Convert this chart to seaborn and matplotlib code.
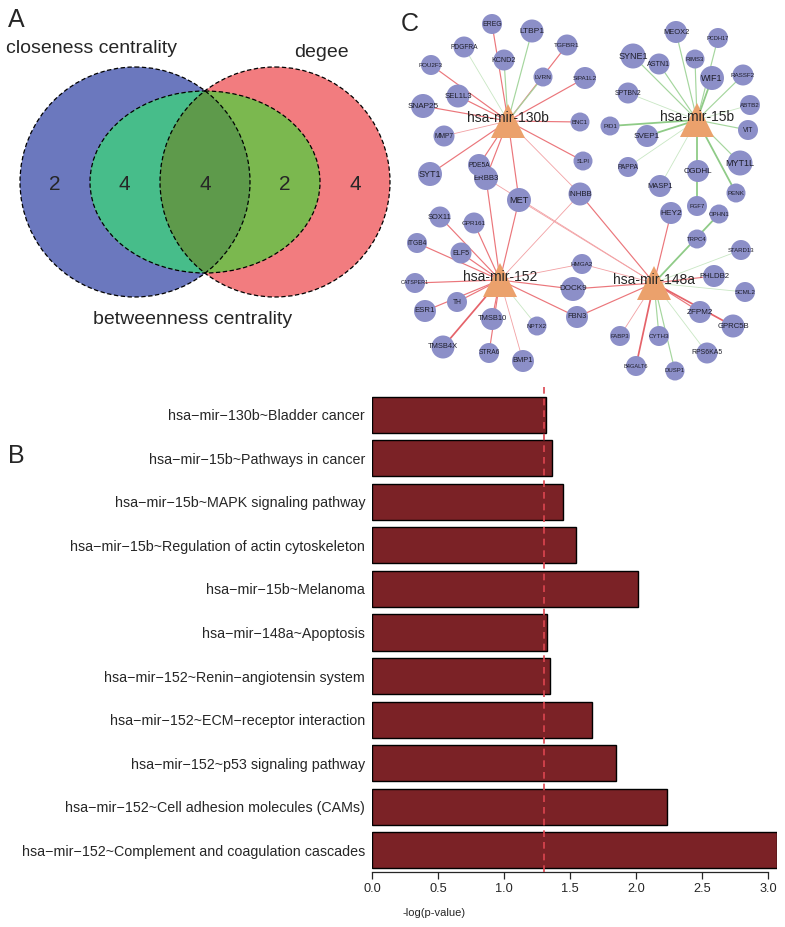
import matplotlib
matplotlib.use("Agg")
import matplotlib.pyplot as plt
from matplotlib.patches import Circle, Ellipse
import numpy as np
import seaborn as sns

sns.set_style("ticks")
plt.rcParams["font.family"] = ["Liberation Sans", "DejaVu Sans"]

# ---- panel A: venn counts (closeness only, closeness&betweenness, all three, degree&betweenness, degree only)
venn_counts = [2, 4, 4, 2, 4]
venn_sets = ["closeness centrality", "degee", "betweenness centrality"]

# ---- panel B: enrichment
terms = [
    "hsa\u2212mir\u2212130b~Bladder cancer",
    "hsa\u2212mir\u221215b~Pathways in cancer",
    "hsa\u2212mir\u221215b~MAPK signaling pathway",
    "hsa\u2212mir\u221215b~Regulation of actin cytoskeleton",
    "hsa\u2212mir\u221215b~Melanoma",
    "hsa\u2212mir\u2212148a~Apoptosis",
    "hsa\u2212mir\u2212152~Renin\u2212angiotensin system",
    "hsa\u2212mir\u2212152~ECM\u2212receptor interaction",
    "hsa\u2212mir\u2212152~p53 signaling pathway",
    "hsa\u2212mir\u2212152~Cell adhesion molecules (CAMs)",
    "hsa\u2212mir\u2212152~Complement and coagulation cascades",
]
neglogp = [1.316, 1.361, 1.445, 1.543, 2.013, 1.323, 1.346, 1.664, 1.848, 2.232, 3.066]
cutoff = 1.301

# ---- panel C: network
mirnas = ["hsa-mir-130b", "hsa-mir-15b", "hsa-mir-152", "hsa-mir-148a"]
mir_x = [508, 697, 500, 654]
mir_y = [121, 120, 280, 283]

genes = ["EREG", "LTBP1", "TGFBR1", "PDGFRA", "KCND2", "POU2F3", "LVRN", "SIPA1L2",
         "SEL1L3", "SNAP25", "BNC1", "MMP7", "SLPI", "ERBB3", "PDE5A", "SYT1", "MET",
         "INHBB", "SOX11", "GPR161", "ITGB4", "ELF5", "CATSPER1", "HMGA2", "DOCK9",
         "TH", "ESR1", "TMSB10", "NPTX2", "FBN3", "TMSB4X", "STRA6", "BMP1",
         "MEOX2", "PCDH17", "SYNE1", "ASTN1", "RIMS3", "WIF1", "RASSF2", "SPTBN2",
         "ABTB2", "PID1", "VIT", "SVEP1", "PAPPA", "MYT1L", "OGDHL", "MASP1", "PENK",
         "FGF7", "OPHN1", "HEY2", "TRPC4", "STARD13", "PHLDB2", "SCML2", "ZFPM2",
         "GPRC5B", "FABP3", "CYTH3", "RPS6KA5", "B4GALT6", "DUSP1"]
gene_x = [492, 532, 567, 464, 504, 431, 543, 585,
          458, 423, 580, 444, 583, 486, 479, 430, 519,
          580, 440, 474, 417, 461, 415, 582, 573,
          457, 425, 492, 537, 577, 443, 489, 523,
          676, 718, 633, 659, 695, 712, 743, 628,
          750, 610, 748, 647, 628, 740, 698, 660, 736,
          697, 719, 671, 697, 741, 714, 745, 700,
          733, 620, 659, 707, 636, 675]
gene_y = [24, 31, 45, 47, 60, 65, 77, 78,
          96, 106, 122, 136, 161, 178, 165, 174, 200,
          194, 217, 223, 243, 253, 283, 264, 289,
          302, 311, 319, 326, 317, 347, 353, 361,
          32, 38, 56, 64, 59, 78, 75, 93,
          105, 126, 130, 136, 167, 163, 171, 186, 193,
          206, 214, 213, 239, 250, 276, 292, 312,
          326, 336, 336, 353, 366, 371]
gene_d = [20, 23, 21, 21, 21, 20, 19, 22,
          23, 24, 19, 21, 19, 24, 22, 24, 24,
          23, 21, 21, 20, 21, 20, 20, 24,
          20, 22, 22, 19, 22, 23, 20, 22,
          22, 20, 25, 21, 19, 24, 21, 21,
          20, 19, 20, 22, 20, 25, 22, 22, 19,
          20, 19, 22, 19, 20, 22, 20, 22,
          23, 20, 20, 21, 20, 19]
gene_fs = [4.6, 5.6, 4.3, 4.4, 4.8, 4.2, 4.3, 4.2,
           5.2, 5.4, 4.0, 4.4, 4.0, 5.2, 4.4, 6.0, 6.2,
           5.2, 5.0, 4.2, 4.4, 4.8, 3.6, 4.2, 5.4,
           4.4, 5.2, 5.0, 4.2, 5.0, 5.0, 4.4, 5.0,
           5.0, 3.8, 6.0, 4.8, 4.0, 6.0, 4.2, 4.6,
           4.2, 4.2, 4.4, 5.4, 4.4, 6.0, 5.4, 5.0, 4.2,
           4.0, 4.0, 5.6, 4.0, 4.0, 5.2, 4.2, 5.4,
           5.2, 4.0, 4.2, 4.6, 3.8, 4.0]

# edges: (mirna, gene, kind)  r=red g=green, t=thin, upper case=thick
edges = [
    ("hsa-mir-130b", "EREG", "r"), ("hsa-mir-130b", "LTBP1", "g"), ("hsa-mir-130b", "TGFBR1", "r"),
    ("hsa-mir-130b", "PDGFRA", "gt"), ("hsa-mir-130b", "KCND2", "g"), ("hsa-mir-130b", "POU2F3", "r"),
    ("hsa-mir-130b", "LVRN", "g"), ("hsa-mir-130b", "SIPA1L2", "r"), ("hsa-mir-130b", "SEL1L3", "r"),
    ("hsa-mir-130b", "SNAP25", "r"), ("hsa-mir-130b", "BNC1", "r"), ("hsa-mir-130b", "MMP7", "rt"),
    ("hsa-mir-130b", "SLPI", "r"), ("hsa-mir-130b", "PDE5A", "r"), ("hsa-mir-130b", "ERBB3", "r"),
    ("hsa-mir-130b", "SYT1", "r"), ("hsa-mir-130b", "MET", "r"), ("hsa-mir-130b", "INHBB", "rt"),
    ("hsa-mir-152", "ERBB3", "r"), ("hsa-mir-152", "MET", "r"), ("hsa-mir-152", "SOX11", "r"),
    ("hsa-mir-152", "GPR161", "r"), ("hsa-mir-152", "ITGB4", "r"), ("hsa-mir-152", "ELF5", "r"),
    ("hsa-mir-152", "CATSPER1", "r"), ("hsa-mir-152", "TH", "r"), ("hsa-mir-152", "ESR1", "r"),
    ("hsa-mir-152", "TMSB10", "r"), ("hsa-mir-152", "NPTX2", "gt"), ("hsa-mir-152", "TMSB4X", "R"),
    ("hsa-mir-152", "STRA6", "r"), ("hsa-mir-152", "BMP1", "rt"), ("hsa-mir-152", "HMGA2", "rt"),
    ("hsa-mir-152", "DOCK9", "r"), ("hsa-mir-152", "FBN3", "r"), ("hsa-mir-152", "INHBB", "rt"),
    ("hsa-mir-148a", "ERBB3", "rt"), ("hsa-mir-148a", "MET", "rt"), ("hsa-mir-148a", "INHBB", "r"),
    ("hsa-mir-148a", "HEY2", "r"), ("hsa-mir-148a", "HMGA2", "rt"), ("hsa-mir-148a", "DOCK9", "r"),
    ("hsa-mir-148a", "FBN3", "r"), ("hsa-mir-148a", "OPHN1", "G"), ("hsa-mir-148a", "STARD13", "gt"),
    ("hsa-mir-148a", "PHLDB2", "r"), ("hsa-mir-148a", "SCML2", "gt"), ("hsa-mir-148a", "ZFPM2", "r"),
    ("hsa-mir-148a", "GPRC5B", "R"), ("hsa-mir-148a", "FABP3", "rt"), ("hsa-mir-148a", "CYTH3", "g"),
    ("hsa-mir-148a", "RPS6KA5", "gt"), ("hsa-mir-148a", "B4GALT6", "R"), ("hsa-mir-148a", "DUSP1", "g"),
    ("hsa-mir-15b", "MEOX2", "g"), ("hsa-mir-15b", "PCDH17", "g"), ("hsa-mir-15b", "SYNE1", "g"),
    ("hsa-mir-15b", "ASTN1", "g"), ("hsa-mir-15b", "RIMS3", "g"), ("hsa-mir-15b", "WIF1", "G"),
    ("hsa-mir-15b", "RASSF2", "g"), ("hsa-mir-15b", "SPTBN2", "gt"), ("hsa-mir-15b", "ABTB2", "gt"),
    ("hsa-mir-15b", "PID1", "G"), ("hsa-mir-15b", "VIT", "g"), ("hsa-mir-15b", "SVEP1", "G"),
    ("hsa-mir-15b", "PAPPA", "gt"), ("hsa-mir-15b", "MYT1L", "g"), ("hsa-mir-15b", "FGF7", "G"),
    ("hsa-mir-15b", "MASP1", "gt"), ("hsa-mir-15b", "PENK", "G"),
]

edge_style = {
    "r": ("#EB767B", 0.85), "rt": ("#F2A0A3", 0.6), "R": ("#E5636A", 1.25),
    "g": ("#A5D69E", 0.85), "gt": ("#C9E7C4", 0.6), "G": ("#8FCB87", 1.3),
}

fig = plt.figure(figsize=(7.85, 9.27), dpi=100)

# overlay axes in pixel units for panels A and C
ax = fig.add_axes([0, 0, 1, 1])
ax.set_xlim(0, 785)
ax.set_ylim(927, 0)
ax.axis("off")

# ---------- Venn ----------
blue = Circle((135, 182), 115, transform=ax.transData)
ax.add_patch(Circle((135, 182), 115, fc="#6B78BE", ec="none"))
ax.add_patch(Circle((275, 182), 115, fc="#F27C7F", ec="none"))
ax.add_patch(Ellipse((205, 182), 230, 182, fc="#7BB84F", ec="none"))
p = ax.add_patch(Ellipse((205, 182), 230, 182, fc="#47BD8A", ec="none"))
p.set_clip_path(blue)
p = ax.add_patch(Circle((275, 182), 115, fc="#5E9A4B", ec="none"))
p.set_clip_path(blue)
for patch in [Circle((135, 182), 115), Circle((275, 182), 115), Ellipse((205, 182), 230, 182)]:
    patch.set_facecolor("none")
    patch.set_edgecolor("black")
    patch.set_linewidth(0.9)
    patch.set_linestyle((0, (3.5, 2)))
    ax.add_patch(patch)

venn_pos_x = [55, 124, 205, 285, 355]
for vx, cnt in zip(venn_pos_x, venn_counts):
    ax.text(vx, 184, str(cnt), fontsize=15, ha="center", va="center")
ax.text(92, 48, venn_sets[0], fontsize=14, ha="center", va="center")
ax.text(321, 52, venn_sets[1], fontsize=14, ha="center", va="center")
ax.text(193, 320, venn_sets[2], fontsize=14, ha="center", va="center")

ax.text(16, 20, "A", fontsize=18, ha="center", va="center")
ax.text(16, 456, "B", fontsize=18, ha="center", va="center")
ax.text(410, 24, "C", fontsize=18, ha="center", va="center")

# ---------- network ----------
gpos = {g: (x, y) for g, x, y in zip(genes, gene_x, gene_y)}
mpos = {m: (x, y) for m, x, y in zip(mirnas, mir_x, mir_y)}
for m, g, kind in edges:
    col, lw = edge_style[kind]
    ax.plot([mpos[m][0], gpos[g][0]], [mpos[m][1], gpos[g][1]], color=col, lw=lw,
            zorder=1, solid_capstyle="butt")

px2pt = 72 / 100
for i, (g, x, y, d, fs) in enumerate(zip(genes, gene_x, gene_y, gene_d, gene_fs)):
    z = 3 + i * 0.01
    ax.scatter([x], [y], s=(d * px2pt) ** 2, color="#8C8FC8", edgecolors="none", zorder=z)
    ax.text(x, y, g, fontsize=fs * 1.08, ha="center", va="center", color="#1E1E2A",
            zorder=z + 0.005)

ax.scatter(mir_x, mir_y, marker="^", s=(34 * px2pt) ** 2, color="#EBA16C", edgecolors="none", zorder=5)
for m, x, y in zip(mirnas, mir_x, mir_y):
    ax.text(x, y - 3, m, fontsize=10, ha="center", va="center", zorder=6)

# ---------- bar chart ----------
axb = fig.add_axes([372 / 785, 1 - 872 / 927, 405 / 785, 479 / 927])
sns.barplot(x=neglogp, y=terms, orient="h", color="#7B2226", saturation=1,
            edgecolor="black", linewidth=1, width=0.83, ax=axb)
axb.set_xlim(0, 405 / 132)
axb.set_ylim(10.5, -0.5)
axb.axvline(cutoff, color="#DC4650", ls=(0, (4, 3)), lw=1.2, ymin=0, ymax=1.012,
            clip_on=False, zorder=3)
sns.despine(ax=axb, left=True)
axb.spines["bottom"].set_bounds(0, 3)
axb.spines["bottom"].set_linewidth(0.9)
axb.set_xticks(np.arange(0, 3.01, 0.5))
axb.set_xticklabels([f"{t:.1f}" for t in np.arange(0, 3.01, 0.5)])
axb.tick_params(axis="x", length=5, width=0.9, labelsize=9.2, pad=3)
axb.tick_params(axis="y", length=0, labelsize=10.3, pad=5)
axb.set_xlabel("")
axb.set_ylabel("")
fig.text(434 / 785, 1 - 913 / 927, "-log(p-value)", ha="center", va="center", fontsize=8)

fig.savefig("out.png", dpi=100)
